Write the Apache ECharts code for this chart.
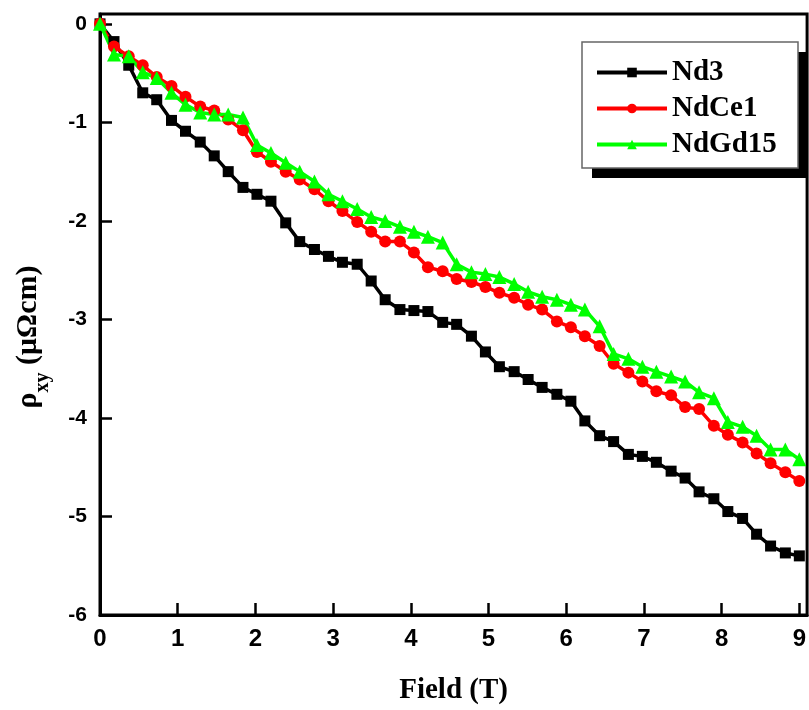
<!DOCTYPE html>
<html>
<head>
<meta charset="utf-8">
<script src="https://cdn.jsdelivr.net/npm/echarts@6/dist/echarts.min.js"></script>
<style>
  html, body { margin: 0; padding: 0; background: #fff; }
  #chart { width: 809px; height: 710px; }
</style>
</head>
<body>
<div id="chart"></div>
<script>
// field (T)
const field = [0, 0.18, 0.37, 0.55, 0.73, 0.92, 1.10, 1.29, 1.47, 1.65,
  1.84, 2.02, 2.20, 2.39, 2.57, 2.76, 2.94, 3.12, 3.31, 3.49,
  3.67, 3.86, 4.04, 4.22, 4.41, 4.59, 4.78, 4.96, 5.14, 5.33,
  5.51, 5.69, 5.88, 6.06, 6.24, 6.43, 6.61, 6.80, 6.98, 7.16,
  7.35, 7.53, 7.71, 7.90, 8.08, 8.27, 8.45, 8.63, 8.82, 9.00];

// rho_xy (μΩcm)
const nd3 = [0, -0.18, -0.42, -0.70, -0.77, -0.98, -1.09, -1.20, -1.34, -1.50,
  -1.66, -1.73, -1.80, -2.02, -2.21, -2.29, -2.36, -2.42, -2.44, -2.61,
  -2.80, -2.90, -2.91, -2.92, -3.03, -3.05, -3.17, -3.33, -3.48, -3.53,
  -3.61, -3.69, -3.76, -3.83, -4.03, -4.18, -4.24, -4.37, -4.39, -4.45,
  -4.54, -4.61, -4.75, -4.82, -4.95, -5.02, -5.18, -5.30, -5.37, -5.40];

const ndCe1 = [0, -0.23, -0.33, -0.42, -0.54, -0.63, -0.74, -0.84, -0.88, -0.97,
  -1.08, -1.30, -1.40, -1.50, -1.58, -1.68, -1.80, -1.90, -2.01, -2.11,
  -2.21, -2.21, -2.32, -2.47, -2.51, -2.59, -2.62, -2.67, -2.73, -2.78,
  -2.85, -2.90, -3.02, -3.08, -3.17, -3.27, -3.45, -3.54, -3.63, -3.73,
  -3.77, -3.89, -3.91, -4.08, -4.17, -4.25, -4.36, -4.46, -4.55, -4.64];

const ndGd15 = [0, -0.31, -0.33, -0.49, -0.55, -0.70, -0.82, -0.90, -0.92, -0.92,
  -0.95, -1.23, -1.31, -1.41, -1.50, -1.60, -1.73, -1.80, -1.88, -1.96,
  -2.00, -2.06, -2.11, -2.16, -2.22, -2.44, -2.52, -2.54, -2.57, -2.64,
  -2.72, -2.77, -2.80, -2.85, -2.90, -3.07, -3.35, -3.40, -3.48, -3.53,
  -3.58, -3.63, -3.74, -3.80, -4.04, -4.09, -4.18, -4.32, -4.32, -4.42];

const seriesNames = ["Nd3", "NdCe1", "NdGd15"];

const zip = (ys) => field.map((x, i) => [x, ys[i]]);

const chart = echarts.init(document.getElementById("chart"));

// only label whole numbers (hides the extra tick at the extent)
const intOnly = (v) => (Math.abs(v - Math.round(v)) < 1e-6 ? String(Math.round(v)) : "");

const option = {
  animation: false,
  grid: {
    left: 100,
    right: 1,
    top: 14,
    bottom: 95,
    show: true,
    borderColor: "#000",
    borderWidth: 3,
  },
  xAxis: {
    type: "value",
    min: 0,
    max: 9.1,
    interval: 1,
    name: "Field (T)",
    nameLocation: "middle",
    nameGap: 61,
    nameTextStyle: {
      fontFamily: "Liberation Serif",
      fontWeight: "bold",
      fontSize: 29,
      color: "#000",
    },
    axisLine: { onZero: false, lineStyle: { color: "#000", width: 3 } },
    axisTick: { inside: true, length: 12, lineStyle: { color: "#000", width: 2.5 } },
    axisLabel: {
      margin: 12,
      color: "#000",
      fontFamily: "Liberation Sans",
      fontWeight: "bold",
      fontSize: 24,
      showMaxLabel: false,
      formatter: intOnly,
    },
    splitLine: { show: false },
  },
  yAxis: {
    type: "value",
    min: -6,
    max: 0.1,
    interval: 1,
    axisLine: { onZero: false, lineStyle: { color: "#000", width: 3 } },
    axisTick: { inside: true, length: 12, lineStyle: { color: "#000", width: 2.5 } },
    axisLabel: {
      margin: 13,
      color: "#000",
      fontFamily: "Liberation Sans",
      fontWeight: "bold",
      fontSize: 21,
      showMaxLabel: false,
      formatter: intOnly,
    },
    splitLine: { show: false },
  },
  legend: {
    orient: "vertical",
    left: 590,
    top: 53,
    itemWidth: 70,
    itemHeight: 12,
    itemGap: 7,
    data: seriesNames,
    lineStyle: { width: 4 },
    textStyle: {
      fontFamily: "Liberation Serif",
      fontWeight: "bold",
      fontSize: 29,
      color: "#000",
    },
  },
  graphic: [
    // legend shadow + box
    { type: "rect", z: 3, shape: { x: 592, y: 52, width: 216, height: 126 }, style: { fill: "#000" } },
    { type: "rect", z: 3, shape: { x: 582, y: 42, width: 216, height: 126 }, style: { fill: "#fff", stroke: "#666", lineWidth: 1.5 } },
    {
      type: "text",
      x: 33,
      y: 337,
      rotation: Math.PI / 2,
      style: {
        text: "{a|ρ}{b|xy}{a| (μΩcm)}",
        align: "center",
        verticalAlign: "middle",
        fill: "#000",
        rich: {
          a: { fontFamily: "Liberation Serif", fontWeight: "bold", fontSize: 30, lineHeight: 32, verticalAlign: "top" },
          b: { fontFamily: "Liberation Serif", fontWeight: "bold", fontSize: 20, lineHeight: 40, verticalAlign: "bottom" },
        },
      },
    },
  ],
  series: [
    {
      name: "Nd3",
      type: "line",
      data: zip(nd3),
      symbol: "rect",
      symbolSize: 11,
      lineStyle: { color: "#000", width: 3.5 },
      itemStyle: { color: "#000" },
    },
    {
      name: "NdCe1",
      type: "line",
      data: zip(ndCe1),
      symbol: "circle",
      symbolSize: 12,
      lineStyle: { color: "#ff0000", width: 3.5 },
      itemStyle: { color: "#ff0000" },
    },
    {
      name: "NdGd15",
      type: "line",
      data: zip(ndGd15),
      symbol: "triangle",
      symbolSize: 14,
      lineStyle: { color: "#00ff00", width: 3.5 },
      itemStyle: { color: "#00ff00" },
    },
  ],
};

chart.setOption(option);
</script>
</body>
</html>
